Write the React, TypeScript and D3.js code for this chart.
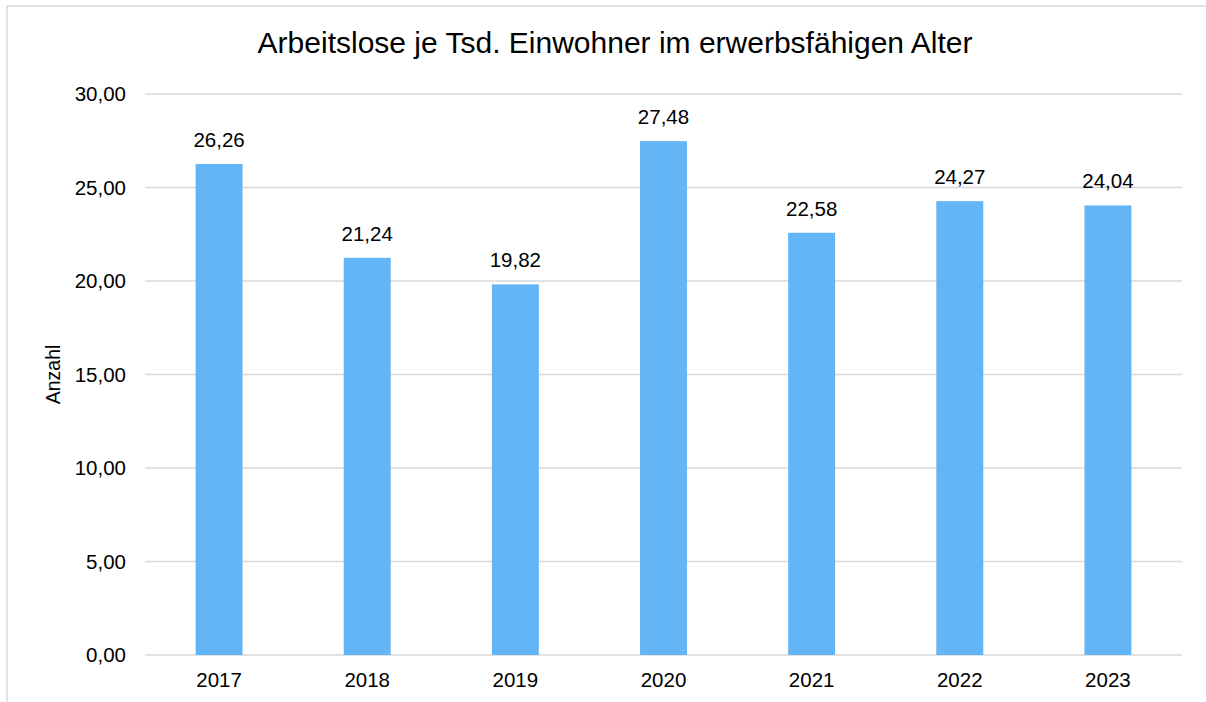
import React from 'react';
import { scaleBand, scaleLinear } from 'd3';

const years = ['2017', '2018', '2019', '2020', '2021', '2022', '2023'];
const values = [26.26, 21.24, 19.82, 27.48, 22.58, 24.27, 24.04];
const yTicks = [0, 5, 10, 15, 20, 25, 30];

const fmt = (v: number) => v.toFixed(2).replace('.', ',');

const App = () => {
  const w = 1206;
  const h = 702;
  const left = 145, right = 1182, top = 94, bottom = 655;

  const x = scaleBand<string>().domain(years).range([left, right]).paddingInner(0.683).paddingOuter(0.3415);
  const y = scaleLinear().domain([0, 30]).range([bottom, top]);

  return (
    <svg width={w} height={h} style={{ position: 'absolute', left: 0, top: 0, fontFamily: '"Liberation Sans", Arial, sans-serif' }}>
      <rect x={0} y={0} width={w} height={h} fill="#fff" />
      <rect x={7} y={6} width={w + 20} height={h + 20} fill="none" stroke="#d9d9d9" strokeWidth={1.5} />
      <text x={615} y={53} textAnchor="middle" fontSize={30} fill="#000">
        Arbeitslose je Tsd. Einwohner im erwerbsfähigen Alter
      </text>
      {yTicks.map(t => (
        <g key={t}>
          <line x1={left} x2={right} y1={y(t)} y2={y(t)} stroke="#d9d9d9" strokeWidth={1.5} />
          <text x={126} y={y(t)} dy="0.35em" textAnchor="end" fontSize={20.5} fill="#000">{fmt(t)}</text>
        </g>
      ))}
      {years.map((yr, i) => (
        <g key={yr}>
          <rect x={x(yr)} y={y(values[i])} width={x.bandwidth()} height={bottom - y(values[i])} fill="#64b5f6" />
          <text x={(x(yr) as number) + x.bandwidth() / 2} y={y(values[i]) - 17} textAnchor="middle" fontSize={20.5} fill="#000">{fmt(values[i])}</text>
          <text x={(x(yr) as number) + x.bandwidth() / 2} y={687} textAnchor="middle" fontSize={20.5} fill="#000">{yr}</text>
        </g>
      ))}
      <text transform={`translate(60, ${(top + bottom) / 2}) rotate(-90)`} textAnchor="middle" fontSize={19.5} fill="#000">Anzahl</text>
    </svg>
  );
};

export default App;
